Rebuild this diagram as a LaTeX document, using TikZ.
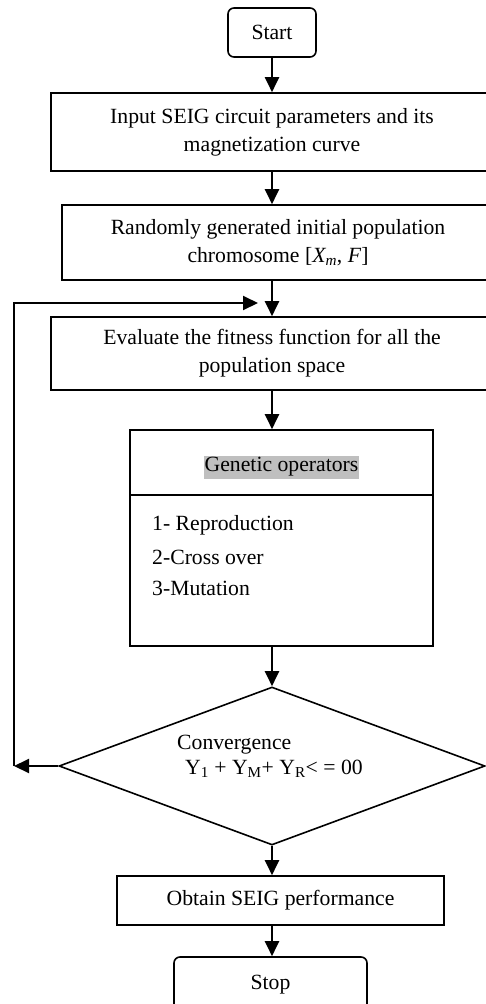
\documentclass[tikz,border=0pt]{standalone}
\usepackage{fontspec}
\setmainfont{Liberation Serif}
\usetikzlibrary{shapes.geometric,arrows.meta}
\begin{document}
\begin{tikzpicture}[x=1pt,y=-1pt,
  every node/.style={font=\fontsize{21.7}{28}\selectfont},
  box/.style={draw,line width=1.6pt,rectangle,inner sep=0pt,align=center},
  term/.style={box,rounded corners=6pt},
  arr/.style={line width=2pt,-{Triangle[length=15pt,width=14pt]}},
  conn/.style={line width=2pt}]
\useasboundingbox (0,0) rectangle (486,1004);
\clip (0,0) rectangle (486,1004);
\node[term,minimum width=88pt,minimum height=49pt] (start) at (272,32.5) {Start};
\node[box,minimum width=442pt,minimum height=78pt] (input) at (272,132) {Input SEIG circuit parameters and its\\magnetization curve};
\node[box,minimum width=432pt,minimum height=75pt] (rand) at (278,242.5) {Randomly generated initial population\\chromosome [\textit{X\textsubscript{m}}, \textit{F}]};
\node[box,minimum width=442pt,minimum height=73pt] (eval) at (272,353.5) {Evaluate the fitness function for all the\\population space};
\node[box,minimum width=303pt,minimum height=216pt] (gen) at (281.5,538) {};
\coordinate (divL) at (130,495);
\coordinate (divR) at (433,495);
\draw[line width=1.6pt] (divL) -- (divR);
\node[fill=black!25,inner xsep=1pt,inner ysep=2pt] (gtitle) at (281.5,467) {Genetic operators};
\node[anchor=base west,inner sep=0pt] (g1) at (152,530) {1- Reproduction};
\node[anchor=base west,inner sep=0pt] (g2) at (152,564) {2-Cross over};
\node[anchor=base west,inner sep=0pt] (g3) at (152,595) {3-Mutation};
\node[diamond,draw,line width=1.6pt,minimum width=426pt,minimum height=158pt,inner sep=0pt] (dia) at (272,766) {};
\node[anchor=base west,inner sep=0pt] (conv) at (177,749) {Convergence};
\node[anchor=base west,inner sep=0pt] (cond) at (185,774) {Y\textsubscript{1} + Y\textsubscript{M}+ Y\textsubscript{R}< = 00};
\node[box,minimum width=327pt,minimum height=49pt] (obt) at (280.5,900.5) {Obtain SEIG performance};
\node[term,minimum width=193pt,minimum height=56pt] (stop) at (270.5,985) {Stop};
\coordinate (fbL) at (14,766);
\coordinate (fbT) at (14,303);
\coordinate (fbE) at (258,303);
\draw[arr] (start.south) -- (input.north);
\draw[arr] (input.south) -- (input.south |- rand.north);
\draw[arr] (input.south |- rand.south) -- (eval.north);
\draw[arr] (eval.south) -- (eval.south |- gen.north);
\draw[arr] (eval.south |- gen.south) -- (dia.north);
\draw[arr] (dia.south) -- (dia.south |- obt.north);
\draw[arr] (dia.south |- obt.south) -- (dia.south |- stop.north);
\draw[arr] (dia.west) -- (fbL);
\draw[arr] (fbL) -- (fbT) -- (fbE);
\end{tikzpicture}
\end{document}
